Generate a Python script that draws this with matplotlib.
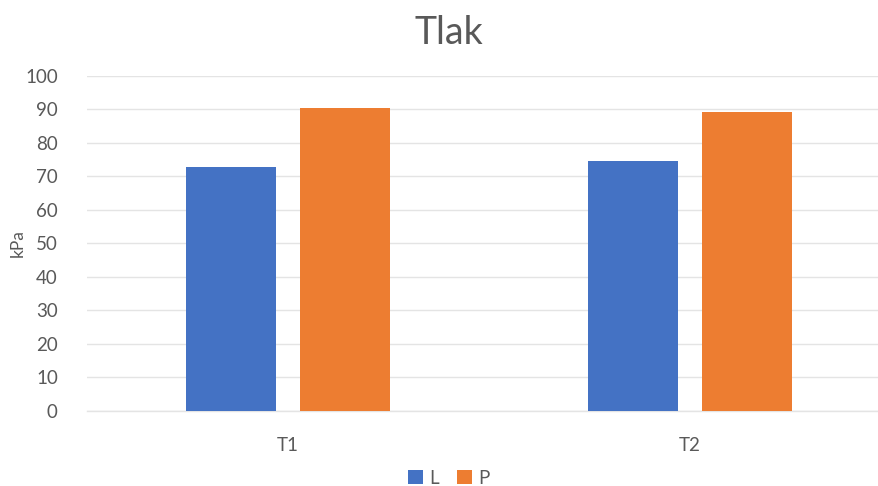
import matplotlib
matplotlib.use("Agg")
import matplotlib.pyplot as plt
import numpy as np

categories = ["T1", "T2"]
series_names = ["L", "P"]
values_L = [72.8, 74.5]
values_P = [90.5, 89.3]
y_ticks = [0, 10, 20, 30, 40, 50, 60, 70, 80, 90, 100]

plt.rcParams['font.family'] = ['Lato', 'DejaVu Sans']
text_color = "#595959"
grid_color = "#E4E4E4"
colors = ["#4472C4", "#ED7D31"]

W, H = 879, 486
fig = plt.figure(figsize=(W / 100, H / 100), dpi=100)
left, right = 87 / W, 1.0
bottom, top = (H - 410.5) / H, (H - 76) / H
ax = fig.add_axes([left, bottom, right - left, top - bottom])

x = np.arange(len(categories))
bw = 0.224
off = 0.1425
ax.bar(x - off, values_L, bw, color=colors[0], label=series_names[0], zorder=3)
ax.bar(x + off, values_P, bw, color=colors[1], label=series_names[1], zorder=3)

ax.set_xlim(-0.5, -0.5 + (W - 87) / 402)
ax.set_ylim(0, 100)
ax.set_yticks(y_ticks)
ax.set_xticks(x)
ax.set_xticklabels(categories)
ax.yaxis.grid(True, color=grid_color, linewidth=1, zorder=0)
ax.set_axisbelow(True)
for s in ["top", "right", "left"]:
    ax.spines[s].set_visible(False)
ax.spines["bottom"].set_color(grid_color)
ax.spines["bottom"].set_linewidth(1)
ax.tick_params(axis="both", length=0, colors=text_color, labelsize=13.5)
ax.tick_params(axis="y", pad=21)
ax.tick_params(axis="x", pad=19)

fig.text(18 / W, 1 - 243 / H, "kPa", rotation=90, ha="center", va="center",
         color=text_color, fontsize=12.5)
fig.text(449 / W, 1 - 33 / H, "Tlak", ha="center", va="center",
         color=text_color, fontsize=27)

leg = fig.legend(loc="center", bbox_to_anchor=(449 / W, 1 - 478 / H), ncol=2,
                 frameon=False, fontsize=13.5, handlelength=0.75, handleheight=0.75,
                 handletextpad=0.35, columnspacing=1.0)
for t in leg.get_texts():
    t.set_color(text_color)

fig.savefig("out.png", dpi=100)
